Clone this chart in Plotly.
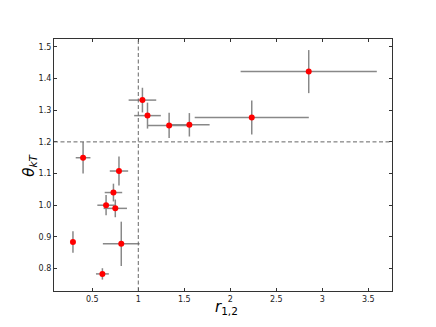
import plotly.graph_objects as go

# r_{1,2} and theta_kT with errors
r12 = [0.29, 0.40, 0.61, 0.65, 0.73, 0.75, 0.79, 0.815, 1.045, 1.10, 1.335, 1.555, 2.233, 2.852]
r12_err = [0.0, 0.08, 0.07, 0.095, 0.095, 0.127, 0.10, 0.20, 0.15, 0.145, 0.235, 0.22, 0.62, 0.74]
theta = [0.884, 1.150, 0.783, 1.000, 1.040, 0.990, 1.108, 0.878, 1.332, 1.283, 1.252, 1.254, 1.277, 1.422]
theta_err = [0.034, 0.05, 0.018, 0.032, 0.028, 0.028, 0.046, 0.07, 0.039, 0.041, 0.04, 0.037, 0.054, 0.068]

r_ref = 1.0
theta_ref = 1.2

fig = go.Figure()
fig.add_trace(go.Scatter(
    x=r12, y=theta, mode="markers",
    marker=dict(color="red", size=6),
    error_x=dict(type="data", array=r12_err, color="#888", thickness=1.5, width=0),
    error_y=dict(type="data", array=theta_err, color="#888", thickness=1.5, width=0),
))
fig.add_vline(x=r_ref, line=dict(color="#666", dash="4px,2.5px", width=1))
fig.add_hline(y=theta_ref, line=dict(color="#666", dash="4px,2.5px", width=1))

ax = dict(showline=True, mirror="ticks", linecolor="#333", linewidth=1.2,
          ticks="inside", ticklen=3, tickcolor="#333", showgrid=False, zeroline=False,
          tickfont=dict(size=8, color="#222"))
fig.update_xaxes(range=[0.084, 3.757], dtick=0.5, tick0=0.5, **ax)
fig.update_yaxes(range=[0.729, 1.525], dtick=0.1, tick0=0.8, tickformat=".1f", **ax)

# axis labels as annotations so they sit where the reference has them
fig.add_annotation(text="<i>r</i><sub>1,2</sub>", xref="paper", yref="paper", x=0.509, y=-0.067,
                   xanchor="center", yanchor="middle",
                   showarrow=False, font=dict(size=15, color="black"))
fig.add_annotation(text="<i>θ</i><sub><i>kT</i></sub>", xref="paper", yref="paper", x=-0.075, y=0.5,
                   xanchor="center", yanchor="middle",
                   showarrow=False, textangle=-90, font=dict(size=15, color="black"))

# page body has an 8px margin, so the figure is a bit smaller than the window
fig.update_layout(width=428, height=319, margin=dict(l=46, r=44, t=31, b=36),
                  plot_bgcolor="white", paper_bgcolor="white", showlegend=False,
                  font=dict(family="DejaVu Sans"))
fig.write_html("out.html")
